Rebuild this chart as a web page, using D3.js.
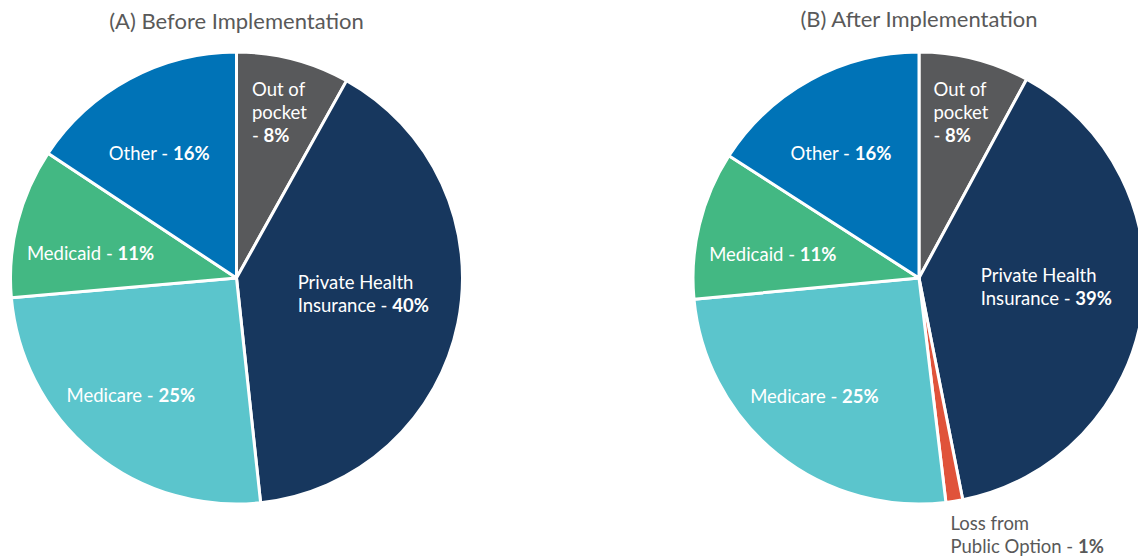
<!DOCTYPE html>
<html>
<head>
<meta charset="utf-8">
<script src="https://cdn.jsdelivr.net/npm/d3@7"></script>
<style>
  body { margin: 0; background: #ffffff; }
  svg { display: block; font-family: "Lato", "Noto Sans", sans-serif; }
</style>
</head>
<body>
<div id="chart"></div>
<script>
// Data (shares in %, clockwise from 12 o'clock)
const categoriesA = ["Out of pocket", "Private Health Insurance", "Medicare", "Medicaid", "Other"];
const valuesA = [8.1, 40.2, 25.3, 10.7, 15.7];

const categoriesB = ["Out of pocket", "Private Health Insurance", "Loss from Public Option", "Medicare", "Medicaid", "Other"];
const valuesB = [7.9, 39.0, 1.2, 25.4, 10.6, 15.9];

const titles = ["(A) Before Implementation", "(B) After Implementation"];

// how the label text wraps
const labelLines = {
    "Out of pocket": ["Out of", "pocket", ""],
    "Private Health Insurance": ["Private Health", "Insurance"],
    "Loss from Public Option": ["Loss from", "Public Option"]
};

// label placement: [fraction of radius, angle shift in degrees]
const labelPlace = {
    "Out of pocket": [0.755, 0],
    "Private Health Insurance": [0.565, -4.5],
    "Medicare": [0.70, 2.5],
    "Medicaid": [0.655, -4.7],
    "Other": [0.65, -3.5],
    "Loss from Public Option": [1.06, 0]
};

const color = d3.scaleOrdinal()
    .domain(["Out of pocket", "Private Health Insurance", "Loss from Public Option", "Medicare", "Medicaid", "Other"])
    .range(["#58595b", "#17375e", "#e0533a", "#5bc5cc", "#43b883", "#0073b7"]);

const width = 1138, height = 556;
const radius = 226;

const svg = d3.select("#chart").append("svg")
    .attr("width", width)
    .attr("height", height);

function drawPie(cx, cy, titleY, title, categories, values) {
    const data = categories.map((c, i) => ({ name: c, value: values[i] }));

    const pie = d3.pie()
        .sort(null)
        .value(d => d.value);

    const arc = d3.arc()
        .innerRadius(0)
        .outerRadius(radius);

    svg.append("text")
        .attr("x", cx)
        .attr("y", titleY)
        .attr("text-anchor", "middle")
        .style("font-size", "22px")
        .style("fill", "#595959")
        .text(title);

    const g = svg.append("g")
        .attr("transform", "translate(" + cx + "," + cy + ")");

    const arcs = pie(data);

    g.selectAll("path.slice")
        .data(arcs)
        .enter()
        .append("path")
        .attr("class", "slice")
        .attr("d", arc)
        .style("fill", d => color(d.data.name))
        .style("stroke", "#ffffff")
        .style("stroke-width", 3)
        .style("stroke-linejoin", "round");

    const lineHeight = 23;

    arcs.forEach(d => {
        const place = labelPlace[d.data.name] || [0.66, 0];
        const k = place[0];
        const mid = (d.startAngle + d.endAngle) / 2 + place[1] * Math.PI / 180;
        const px = Math.sin(mid) * radius * k;
        const py = -Math.cos(mid) * radius * k;
        const outside = k > 1;
        const pct = Math.round(d.data.value) + "%";

        const lines = (labelLines[d.data.name] || [d.data.name]).slice();
        const lab = g.append("g").attr("class", "label");
        const textFill = outside ? "#595959" : "#ffffff";

        const texts = lines.map((line, i) => {
            const t = lab.append("text")
                .attr("y", i * lineHeight)
                .attr("dy", "0.35em")
                .style("font-size", "18.5px")
                .style("fill", textFill);
            if (i === lines.length - 1) {
                t.append("tspan").text(line === "" ? "- " : line + " - ");
                t.append("tspan").style("font-weight", "bold").text(pct);
            } else {
                t.text(line);
            }
            return t;
        });

        const blockW = d3.max(texts, t => t.node().getComputedTextLength());
        const blockH = (lines.length - 1) * lineHeight;

        let x0, y0;
        if (outside) {
            x0 = px - 6;
            y0 = py + 9;
        } else {
            x0 = px - blockW / 2;
            y0 = py - blockH / 2;
        }
        lab.attr("transform", "translate(" + x0 + "," + y0 + ")");
    });
}

drawPie(236.5, 278, 29, titles[0], categoriesA, valuesA);
drawPie(919, 278, 27, titles[1], categoriesB, valuesB);
</script>
</body>
</html>
